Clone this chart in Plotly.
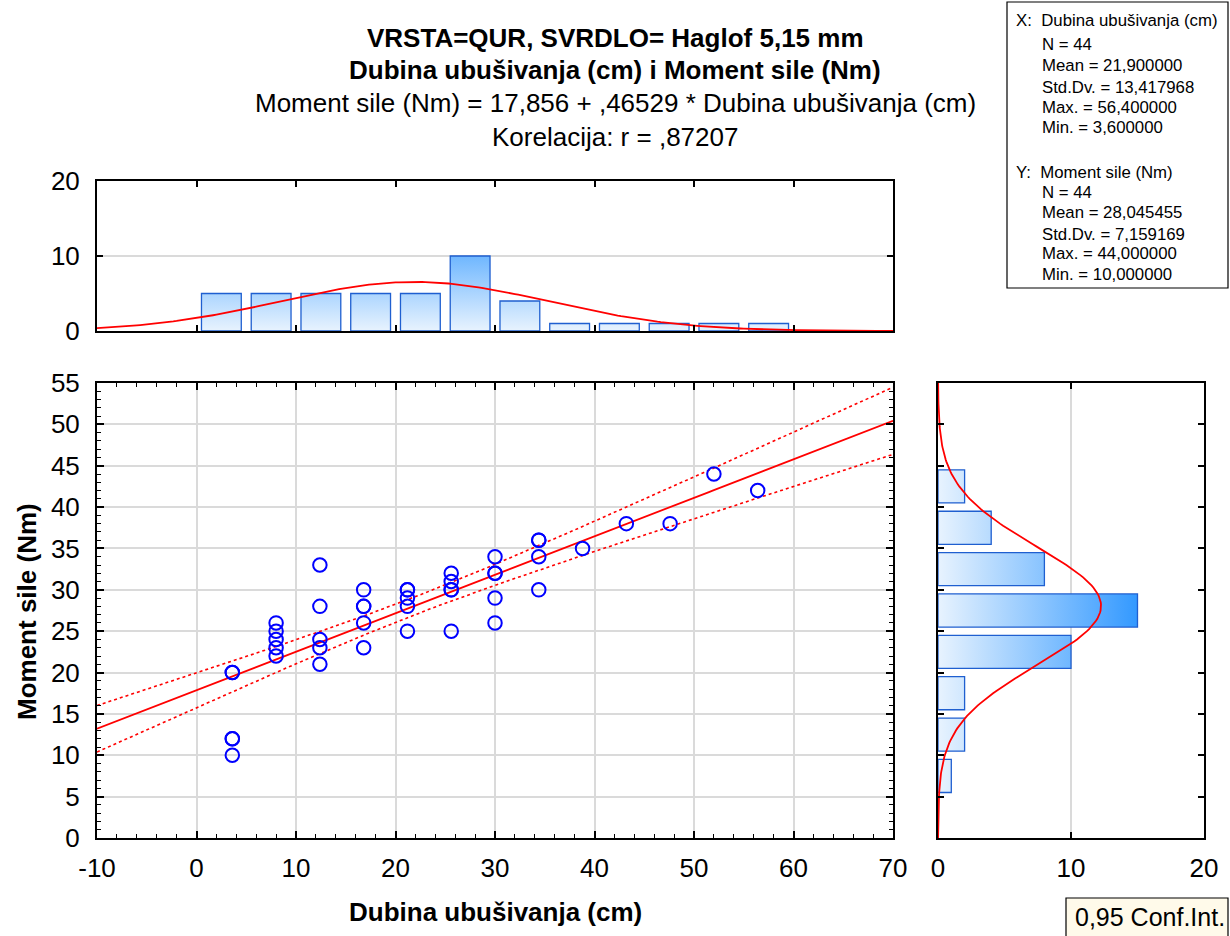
import numpy as np
import plotly.graph_objects as go

# ---- data -----------------------------------------------------------------
dubina = [3.6, 3.6, 3.6, 3.6, 3.6,
          8.0, 8.0, 8.0, 8.0, 8.0,
          12.4, 12.4, 12.4, 12.4, 12.4,
          16.8, 16.8, 16.8, 16.8, 16.8,
          21.2, 21.2, 21.2, 21.2, 21.2,
          25.6, 25.6, 25.6, 25.6, 25.6,
          30.0, 30.0, 30.0, 30.0, 30.0,
          34.4, 34.4, 34.4, 34.4,
          38.8, 43.2, 47.6, 52.0, 56.4]
moment = [10, 12, 12, 20, 20,
          22, 23, 24, 25, 26,
          21, 23, 24, 28, 33,
          23, 26, 28, 28, 30,
          25, 28, 29, 30, 30,
          25, 30, 30, 31, 32,
          26, 29, 32, 32, 34,
          30, 34, 36, 36,
          35, 38, 38, 44, 42]

intercept = 17.856
slope = 0.46529
conf_label = "0,95 Conf.Int."
x_name = "Dubina ubušivanja (cm)"
y_name = "Moment sile (Nm)"
title_lines = [
    "<b>VRSTA=QUR, SVRDLO= Haglof 5,15 mm</b>",
    "<b>Dubina ubušivanja (cm) i Moment sile (Nm)</b>",
    "Moment sile (Nm) = 17,856 + ,46529 * Dubina ubušivanja (cm)",
    "Korelacija: r = ,87207",
]

x_ticks = [-10, 0, 10, 20, 30, 40, 50, 60, 70]
x_tick_text = ["-10", "0", "10", "20", "30", "40", "50", "60", "70"]

x_bins = list(range(0, 65, 5))    # histogram bin edges, X variable
y_bins = list(range(5, 50, 5))    # histogram bin edges, Y variable
t_crit = 2.0181                   # Student t, 0.975 quantile, df = 42

# ---- derived quantities -----------------------------------------------------
xa = np.array(dubina, float)
ya = np.array(moment, float)
n = len(xa)


def right_closed_counts(vals, edges):
    return [int(np.sum((vals > lo) & (vals <= hi))) for lo, hi in zip(edges[:-1], edges[1:])]


x_counts = right_closed_counts(xa, x_bins)
y_counts = right_closed_counts(ya, y_bins)

xline = np.linspace(-10, 70, 161)
yfit = intercept + slope * xline
resid = ya - (intercept + slope * xa)
s_err = np.sqrt(np.sum(resid ** 2) / (n - 2))
sxx = np.sum((xa - xa.mean()) ** 2)
half = t_crit * s_err * np.sqrt(1.0 / n + (xline - xa.mean()) ** 2 / sxx)

FONT = "Liberation Sans, Arial, sans-serif"
BLUE_EDGE = "#1f5fd0"
GRAD = [[0, "#e8f3fe"], [1, "#3399ff"]]

fig = go.Figure()

# ---- main scatter -----------------------------------------------------------
fig.add_trace(go.Scatter(x=xline, y=yfit + half, mode="lines",
                         line=dict(color="#ff0000", width=1.6, dash="dot"),
                         xaxis="x", yaxis="y", hoverinfo="skip"))
fig.add_trace(go.Scatter(x=xline, y=yfit - half, mode="lines",
                         line=dict(color="#ff0000", width=1.6, dash="dot"),
                         xaxis="x", yaxis="y", hoverinfo="skip"))
fig.add_trace(go.Scatter(x=xline, y=yfit, mode="lines",
                         line=dict(color="#ff0000", width=1.8),
                         xaxis="x", yaxis="y"))
fig.add_trace(go.Scatter(x=dubina, y=moment, mode="markers",
                         marker=dict(symbol="circle-open", size=13.5, color="#0000ff",
                                     line=dict(width=2, color="#0000ff")),
                         xaxis="x", yaxis="y"))


def bar_polys(edges, counts, vertical):
    px, py = [], []
    for lo, hi, c in zip(edges[:-1], edges[1:], counts):
        if c == 0:
            continue
        w = hi - lo
        a, b = lo + 0.1 * w, hi - 0.1 * w
        xs = [a, a, b, b, a]
        ys = [0, c, c, 0, 0]
        if vertical:
            px += xs + [None]
            py += ys + [None]
        else:
            px += ys + [None]
            py += xs + [None]
    return px, py


# ---- top histogram (X) ------------------------------------------------------
hx, hy = bar_polys(x_bins, x_counts, True)
fig.add_trace(go.Scatter(x=hx, y=hy, mode="lines", fill="toself",
                         fillgradient=dict(type="vertical", colorscale=GRAD, start=0, stop=15),
                         line=dict(color=BLUE_EDGE, width=1.3),
                         xaxis="x2", yaxis="y2"))
gx = np.linspace(-10, 70, 241)
pdf_x = n * 5 * np.exp(-0.5 * ((gx - xa.mean()) / xa.std(ddof=1)) ** 2) / (xa.std(ddof=1) * np.sqrt(2 * np.pi))
fig.add_trace(go.Scatter(x=gx, y=pdf_x, mode="lines", line=dict(color="#ff0000", width=1.8),
                         xaxis="x2", yaxis="y2"))

# ---- right histogram (Y) ----------------------------------------------------
vx, vy = bar_polys(y_bins, y_counts, False)
fig.add_trace(go.Scatter(x=vx, y=vy, mode="lines", fill="toself",
                         fillgradient=dict(type="horizontal", colorscale=GRAD, start=0, stop=15),
                         line=dict(color=BLUE_EDGE, width=1.3),
                         xaxis="x3", yaxis="y3"))
gy = np.linspace(0, 55, 221)
pdf_y = n * 5 * np.exp(-0.5 * ((gy - ya.mean()) / ya.std(ddof=1)) ** 2) / (ya.std(ddof=1) * np.sqrt(2 * np.pi))
fig.add_trace(go.Scatter(x=pdf_y, y=gy, mode="lines", line=dict(color="#ff0000", width=1.8),
                         xaxis="x3", yaxis="y3"))

# ---- axes -------------------------------------------------------------------
W, H = 1230, 936


def px_x(p):
    return p / W


def px_y(p):
    return 1 - p / H


frame = dict(showline=True, linecolor="black", linewidth=2, mirror="ticks",
             ticks="inside", tickcolor="black", zeroline=False, automargin=False,
             gridcolor="#dadada", gridwidth=1.5,
             tickfont=dict(family=FONT, size=26, color="black"))

main_dom_x = [px_x(97), px_x(893)]
main_dom_y = [px_y(838), px_y(383)]

fig.update_layout(
    xaxis=dict(frame, domain=main_dom_x, anchor="y", range=[-10, 70],
               tickvals=x_ticks, ticktext=x_tick_text,
               ticklen=7, tickwidth=1.5, ticklabelstandoff=6,
               minor=dict(ticks="inside", dtick=2, tick0=0, ticklen=4, tickcolor="black",
                          tickwidth=1.2, showgrid=False)),
    yaxis=dict(frame, domain=main_dom_y, anchor="x", range=[0, 55], dtick=5,
               ticklen=7, tickwidth=1.5, ticklabelstandoff=10,
               minor=dict(ticks="inside", dtick=1, ticklen=4, tickcolor="black", tickwidth=1.2, showgrid=False)),
    xaxis2=dict(frame, domain=main_dom_x, anchor="y2", range=[-10, 70], dtick=10, tick0=0,
                showticklabels=False, showgrid=False, ticklen=6, tickwidth=1.5),
    yaxis2=dict(frame, domain=[px_y(331), px_y(181)], anchor="x2", range=[0, 20], dtick=10,
                ticklen=6, tickwidth=1.5, ticklabelstandoff=10),
    xaxis3=dict(frame, domain=[px_x(938), px_x(1204)], anchor="y3", range=[0, 20], dtick=10,
                ticklen=6, tickwidth=1.5, ticklabelstandoff=6),
    yaxis3=dict(frame, domain=main_dom_y, anchor="x3", range=[0, 55], dtick=5,
                showticklabels=False, showgrid=False, ticklen=6, tickwidth=1.5),
    width=W, height=H, margin=dict(l=0, r=0, t=0, b=0, autoexpand=False),
    paper_bgcolor="white", plot_bgcolor="white", showlegend=False,
    font=dict(family=FONT, color="black"),
)

annotations = []
for txt, yp in zip(title_lines, [38, 70, 103, 137]):
    annotations.append(dict(text=txt, x=0.5, y=px_y(yp), xref="paper", yref="paper",
                            xanchor="center", yanchor="middle", showarrow=False,
                            font=dict(family=FONT, size=26, color="black")))

annotations.append(dict(text="<b>" + x_name + "</b>", x=(main_dom_x[0] + main_dom_x[1]) / 2,
                        y=px_y(912), xref="paper", yref="paper", showarrow=False,
                        xanchor="center", yanchor="middle",
                        font=dict(family=FONT, size=26, color="black")))
annotations.append(dict(text="<b>" + y_name + "</b>", x=px_x(27), y=px_y(612),
                        xref="paper", yref="paper", showarrow=False, textangle=-90,
                        xanchor="center", yanchor="middle",
                        font=dict(family=FONT, size=26, color="black")))


# ---- descriptive statistics box ----------------------------------------------
def fmt(v):
    return f"{v:.6f}".replace(".", ",")


def stat_block(label, name, arr):
    return [(f"{label}:  {name}", 1014),
            (f"N = {len(arr)}", 1040),
            (f"Mean = {fmt(arr.mean())}", 1040),
            (f"Std.Dv. = {fmt(arr.std(ddof=1))}", 1040),
            (f"Max. = {fmt(arr.max())}", 1040),
            (f"Min. = {fmt(arr.min())}", 1040)]


stat_lines = stat_block("X", x_name, xa) + stat_block("Y", y_name, ya)
line_y = [20, 44, 66, 87, 107, 128, 172, 193, 213, 234, 254, 274]
for (txt, xp), yp in zip(stat_lines, line_y):
    annotations.append(dict(text=txt, x=px_x(xp), y=px_y(yp), xref="paper", yref="paper",
                            xanchor="left", yanchor="middle", showarrow=False,
                            font=dict(family=FONT, size=16.8, color="black")))

annotations.append(dict(text=conf_label, x=px_x(1073), y=px_y(917), xref="paper", yref="paper",
                        xanchor="left", yanchor="middle", showarrow=False,
                        font=dict(family=FONT, size=25, color="black")))

fig.update_layout(
    annotations=annotations,
    shapes=[
        dict(type="rect", xref="paper", yref="paper", x0=px_x(1007), x1=px_x(1228),
             y0=px_y(288), y1=px_y(2), line=dict(color="black", width=1.2), fillcolor="white",
             layer="below"),
        dict(type="rect", xref="paper", yref="paper", x0=px_x(1066), x1=px_x(1228),
             y0=px_y(940), y1=px_y(898), line=dict(color="black", width=1.2), fillcolor="#fffaea",
             layer="below"),
    ],
)

fig.write_html("out.html")
